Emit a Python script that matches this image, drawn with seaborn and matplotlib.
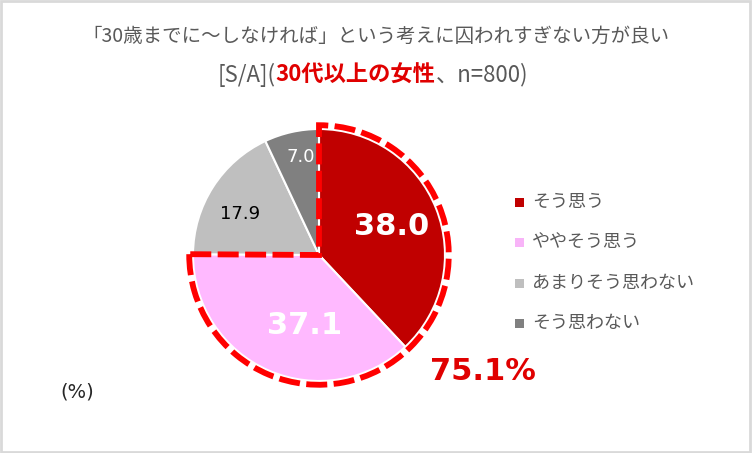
import numpy as np
import matplotlib
matplotlib.use("Agg")
import matplotlib.pyplot as plt
from matplotlib.patches import Wedge, Rectangle
import seaborn as sns

# ---- data ----
categories = ["そう思う", "ややそう思う", "あまりそう思わない", "そう思わない"]
values = [38.0, 37.1, 17.9, 7.0]
value_labels = ["38.0", "37.1", "17.9", "7.0"]
colors = ["#C00000", "#FFB9FF", "#BFBFBF", "#808080"]
legend_colors = ["#C00000", "#F8B4F8", "#BFBFBF", "#808080"]
title_line1 = "「30歳までに〜しなければ」という考えに囚われすぎない方が良い"
title_parts = ["[S/A](", "30代以上の女性", "、n=800)"]
highlight_text = "75.1%"
unit_text = "(%)"

sns.set_theme(style="white")
plt.rcParams['font.family'] = ['Noto Sans CJK JP', 'DejaVu Sans']

W, H = 752, 453
fig = plt.figure(figsize=(W / 100, H / 100), dpi=100)
fig.patch.set_facecolor("white")

# pie axes: centre (319,255) px, radius 126 px, axes covers [-1.2,1.2]
cx, cy, R = 319, 255, 126
half = R * 1.2
ax = fig.add_axes([(cx - half) / W, (H - cy - half) / H, 2 * half / W, 2 * half / H])
wedges, _ = ax.pie(values, colors=colors, startangle=90, counterclock=False,
                   radius=1.0, wedgeprops=dict(edgecolor="white", linewidth=1.5))
ax.set_xlim(-1.2, 1.2)
ax.set_ylim(-1.2, 1.2)
ax.set_aspect("equal")
ax.axis("off")

# dashed outline around top-2 box
top2 = values[0] + values[1]
ax.add_patch(Wedge((0, 0), 1.03, 90 - 360 * top2 / 100, 90, fill=False,
                   edgecolor="#FF0000", linewidth=4.2, linestyle=(0, (3.6, 1.1)),
                   joinstyle="miter", capstyle="butt", zorder=5))

# value labels
label_r = [0.62, 0.57, 0.71, 0.79]
label_nudge = [0, 12, 5, -2]
label_color = ["white", "white", "black", "white"]
label_size = [22, 22, 13, 13]
label_weight = ["bold", "bold", "normal", "normal"]
for w, t, r, n, c, s, wt in zip(wedges, value_labels, label_r, label_nudge,
                                label_color, label_size, label_weight):
    mid = np.deg2rad((w.theta1 + w.theta2) / 2 + n)
    ax.text(r * np.cos(mid), r * np.sin(mid), t, ha="center", va="center",
            color=c, fontsize=s, fontweight=wt, family="DejaVu Sans", zorder=6)

# title
gray = "#595959"
fig.text(376 / W, 1 - 36 / H, title_line1, ha="center", va="center",
         fontsize=14, color=gray)
fig.canvas.draw()
renderer = fig.canvas.get_renderer()
styles = [dict(color=gray), dict(color="#E00000", fontweight="bold"), dict(color=gray)]
tmp = []
widths = []
for p, st in zip(title_parts, styles):
    t = fig.text(0, 0, p, fontsize=16, **st)
    widths.append(t.get_window_extent(renderer).width)
    tmp.append(t)
total = sum(widths)
x = 373 - total / 2
for t, wdt in zip(tmp, widths):
    t.set_position((x / W, 1 - 75 / H))
    t.set_va("center")
    x += wdt

# legend
for i, (lab, col) in enumerate(zip(categories, legend_colors)):
    yy = [202, 242, 283, 323][i]
    fig.add_artist(Rectangle((515 / W, (H - yy - 4.5) / H), 9 / W, 9 / H,
                             transform=fig.transFigure, facecolor=col,
                             edgecolor="none"))
    fig.text(532 / W, 1 - yy / H, lab, ha="left", va="center", fontsize=13,
             color=gray)

# highlight
fig.text(483 / W, 1 - 372 / H, highlight_text, ha="center", va="center",
         fontsize=22, fontweight="bold", color="#E00000", family="DejaVu Sans")
fig.text(77 / W, 1 - 392 / H, unit_text, ha="center", va="center",
         fontsize=14, color="#262626", family="DejaVu Sans")

# frame
fig.add_artist(Rectangle((0.001, 0.002), 0.997, 0.995, transform=fig.transFigure,
                         fill=False, edgecolor="#D9D9D9", linewidth=2))

fig.savefig("out.png", dpi=100)
